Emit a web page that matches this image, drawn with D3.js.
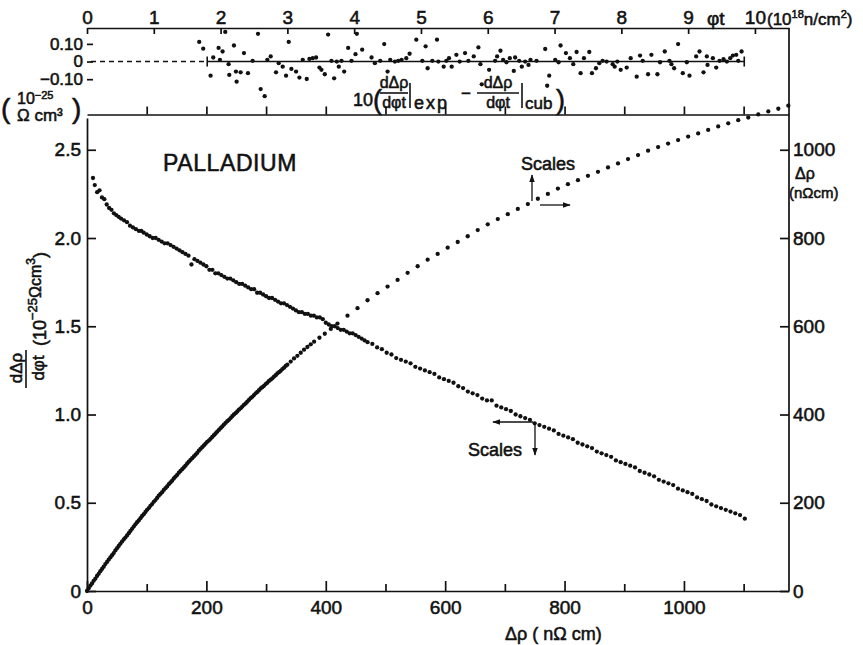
<!DOCTYPE html>
<html><head><meta charset="utf-8">
<script src="https://cdn.jsdelivr.net/npm/d3@7"></script>
<style>
body{margin:0;background:#fff;}
svg text{font-family:"Liberation Sans",Arial,sans-serif;fill:#111;stroke:#111;stroke-width:0.55px;}
</style></head><body><svg id="c" width="863" height="645"></svg>
<script>
// ---- DATA ----
// Upper curve: Δρ (nΩcm, right scale) versus fluence φt (10^18 n/cm², top scale)
const fluence = [0,0.025,0.05,0.075,0.1,0.125,0.15,0.175,0.2,0.225,0.25,0.275,0.3,0.325,0.35,0.375,0.4,0.425,0.45,0.475,
 0.5,0.525,0.55,0.575,0.6,0.625,0.65,0.675,0.7,0.725,0.75,0.775,0.8,0.825,0.85,0.875,0.9,0.925,0.95,0.975,
 1.0,1.025,1.05,1.075,1.1,1.125,1.15,1.175,1.2,1.225,1.25,1.275,1.3,1.325,1.35,1.375,1.4,1.425,1.45,1.475,
 1.5,1.525,1.55,1.575,1.6,1.625,1.65,1.675,1.7,1.725,1.75,1.775,1.8,1.825,1.85,1.875,1.9,1.925,1.95,1.975,
 2.0,2.025,2.05,2.075,2.1,2.125,2.15,2.175,2.2,2.225,2.25,2.275,2.3,2.325,2.35,2.375,2.4,2.425,2.45,2.475,
 2.5,2.525,2.55,2.575,2.6,2.625,2.65,2.675,2.7,2.725,2.75,2.775,2.8,2.825,2.85,2.875,2.9,2.925,2.95,2.975,
 3.0,3.05,3.1,3.15,3.2,3.25,3.3,3.35,3.4,3.48,3.56,
 3.65,3.75,3.9,4.05,4.2,4.35,4.5,4.65,4.8,4.95,5.1,5.25,5.4,5.55,5.7,5.85,6.0,6.15,6.3,6.45,
 6.6,6.75,6.9,7.05,7.2,7.35,7.5,7.65,7.8,7.95,8.1,8.25,8.4,8.55,8.7,8.85,9.0,9.15,9.3,9.45,
 9.6,9.75,9.9,10.05,10.2,10.35,10.5];
const resistivity = [0,6,12,17,23,28,34,39,45,50,55,61,66,71,76,81,86,92,97,102,
 107,112,117,121,126,131,136,141,146,151,156,160,165,170,174,179,184,188,193,197,
 202,206,211,216,220,224,229,233,237,242,246,250,255,259,263,268,272,276,280,284,
 289,293,297,301,305,309,313,318,322,326,330,334,338,341,345,349,353,357,361,365,
 369,373,377,381,385,388,392,396,400,403,407,411,414,418,422,425,429,433,437,440,
 444,448,451,455,459,462,465,469,472,476,479,482,486,489,493,496,499,503,506,510,
 513,520,527,533,540,547,553,559,565,574,583,
 594,606,624,641,659,675,690,705,721,736,751,764,778,791,804,818,831,843,854,866,
 877,889,900,912,922,931,941,950,960,969,979,988,998,1006,1014,1022,1030,1037,1045,1053,
 1060,1067,1073,1080,1087,1093,1100];

// Lower curve: dΔρ/dφt (10^-25 Ωcm³, left scale) versus Δρ (nΩcm, bottom scale)
const derivX = [10,13,17,21,25,29,33,37,41,45,49,53,57,62,67,72,77,82,87,91,
 95,100,105,110,115,120,125,130,135,140,145,150,155,160,165,170,175,180,185,190,
 195,200,205,210,215,220,225,230,235,240,245,250,255,260,265,270,275,280,285,290,
 295,300,305,310,315,320,325,330,335,340,345,350,355,360,365,370,375,380,385,390,
 395,400,405,410,415,420,425,430,435,440,445,450,455,460,465,470,
 478,486,494,502,510,518,526,534,542,550,558,566,574,582,590,598,606,614,622,630,638,646,654,662,670,678,686,694,702,710,
 718,726,734,742,750,758,766,774,782,790,798,806,814,822,830,838,846,854,862,870,878,886,894,902,910,918,926,934,942,950,
 958,966,974,982,990,998,1006,1014,1022,1030,1038,1046,1054,1062,1070,1078,1086,1094,1102];
const derivY = [2.34,2.30,2.26,2.27,2.23,2.22,2.19,2.17,2.16,2.14,2.13,2.12,2.11,2.10,2.09,2.07,2.06,2.05,2.04,2.04,
 2.03,2.02,2.01,2.00,2.00,1.99,1.98,1.97,1.97,1.96,1.95,1.94,1.93,1.92,1.91,1.90,1.85,1.88,1.87,1.86,
 1.85,1.84,1.82,1.82,1.80,1.80,1.79,1.78,1.77,1.77,1.76,1.75,1.74,1.74,1.73,1.72,1.71,1.71,1.69,1.69,
 1.68,1.67,1.66,1.66,1.65,1.64,1.63,1.63,1.62,1.61,1.60,1.59,1.58,1.58,1.57,1.57,1.56,1.56,1.55,1.55,
 1.54,1.52,1.51,1.50,1.50,1.49,1.48,1.48,1.47,1.46,1.46,1.45,1.44,1.43,1.42,1.41,
 1.40,1.38,1.37,1.35,1.34,1.32,1.31,1.30,1.29,1.27,1.26,1.25,1.24,1.23,1.21,1.20,1.19,1.18,1.16,1.15,
 1.13,1.12,1.11,1.09,1.08,1.08,1.05,1.04,1.03,1.02,1.00,0.99,0.98,0.97,0.95,0.94,0.93,0.92,0.91,0.89,
 0.88,0.87,0.86,0.84,0.83,0.82,0.81,0.79,0.78,0.77,0.76,0.74,0.73,0.72,0.71,0.70,0.68,0.67,0.66,0.65,
 0.63,0.62,0.61,0.60,0.58,0.57,0.56,0.55,0.53,0.52,0.51,0.49,0.48,0.47,0.46,0.45,0.44,0.43,0.41];

// Residual panel: 10(dΔρ/dφt|exp − dΔρ/dφt|cub) versus φt
const residPhi = [1.68,1.74,1.85,1.89,1.97,1.99,2.03,2.07,2.12,2.13,2.20,2.23,2.24,2.30,2.35,2.41,2.48,2.56,2.60,2.66,
 2.70,2.75,2.83,2.87,2.93,2.98,3.02,3.06,3.13,3.18,3.23,3.29,3.33,3.38,3.43,3.48,3.51,3.56,3.61,3.66,
 3.70,3.74,3.77,3.81,3.85,3.91,3.96,4.02,4.04,4.12,4.26,4.31,4.39,4.45,4.50,4.54,4.61,4.66,4.71,4.78,
 4.83,4.93,5.02,5.07,5.10,5.17,5.24,5.26,5.34,5.38,5.42,5.46,5.53,5.58,5.66,5.71,5.79,5.86,5.89,5.91,
 6.02,6.11,6.14,6.19,6.23,6.28,6.33,6.39,6.41,6.47,6.51,6.56,6.61,6.64,6.73,6.86,6.89,6.92,7.01,7.06,
 7.09,7.17,7.23,7.28,7.33,7.39,7.44,7.52,7.56,7.62,7.67,7.72,7.78,7.87,7.90,7.94,7.99,8.08,8.14,8.23,
 8.28,8.32,8.40,8.45,8.54,8.58,8.65,8.72,8.75,8.79,8.85,8.92,8.98,9.02,9.12,9.17,9.23,9.28,9.29,9.37,
 9.42,9.47,9.53,9.58,9.63,9.67,9.72,9.75,9.80];
const residVal = [0.111,0.073,-0.080,0.023,0.077,0.010,0.057,0.168,-0.015,-0.076,0.091,-0.057,-0.114,-0.061,0.048,-0.066,0.004,0.157,-0.156,-0.196,
 0.010,0.029,-0.061,-0.009,-0.029,-0.080,0.111,-0.042,-0.057,-0.091,0.010,-0.099,0.015,0.019,0.023,-0.034,-0.047,-0.072,0.153,0.004,
 -0.095,0.000,-0.029,0.004,-0.057,0.077,0.004,0.042,0.157,0.067,0.023,-0.009,0.004,0.099,-0.057,0.010,0.000,0.004,0.010,0.019,
 0.044,0.124,0.004,0.086,-0.038,0.004,0.124,0.000,-0.029,0.004,0.019,-0.029,0.038,0.000,0.048,0.004,0.029,0.080,-0.015,-0.129,
 -0.047,0.004,0.029,0.061,0.010,-0.004,0.019,-0.053,0.023,0.004,-0.029,0.000,-0.019,0.010,0.004,0.071,-0.137,-0.080,0.010,-0.004,
 0.091,0.048,0.019,-0.015,0.054,-0.066,0.019,0.054,-0.066,-0.038,-0.009,0.004,0.000,-0.015,-0.029,0.000,-0.047,-0.034,0.019,-0.086,
 0.034,0.004,-0.072,0.038,-0.072,-0.004,0.057,0.004,-0.015,-0.038,0.099,-0.066,-0.004,-0.080,0.029,0.057,-0.061,0.029,-0.019,0.019,
 -0.034,0.004,0.013,0.000,0.019,0.034,0.038,0.004,0.057];

// Tick values / labels
const bottomMajor = [0,200,400,600,800,1000];
const bottomMinor = [100,300,500,700,900,1100];
const panelTicks = [100,200,300,400,500,600,700,800,900,1000,1100];
const leftTicks = [0,0.5,1.0,1.5,2.0,2.5];
const rightTicks = [0,200,400,600,800,1000];
const topTicks = [0,1,2,3,4,5,6,7,8,9,10];
const residTicks = [0.10,0,-0.10];
const residTickLabels = ["0.10","0","\u22120.10"];
const fitRange = [1.80, 9.84]; // φt span of the cubic fit (solid part of zero line)

// ---- LAYOUT ----
const L=87, R=789, B=591, T=118, PT=28, PB=114.5;
const INK="#111";
const svg = d3.select("#c");

const xD   = d3.scaleLinear().domain([0,1176]).range([L,R]);
const yL   = d3.scaleLinear().domain([0,2.68]).range([B,T]);
const yR   = d3.scaleLinear().domain([0,1072]).range([B,T]);
const xPhi = d3.scaleLinear().domain([0,10.51]).range([L,R]);
const yRes = d3.scaleLinear().domain([-0.30,0.19]).range([PB,PT]);

function styleAxis(g, fs){
  g.attr("font-family",'"Liberation Sans",Arial,sans-serif').attr("font-size",fs);
  g.selectAll("path.domain").attr("stroke",INK).attr("stroke-width",1.7);
  g.selectAll(".tick line").attr("stroke",INK).attr("stroke-width",1.7);
  g.selectAll(".tick text").attr("fill",INK);
}

// bottom axis
styleAxis(svg.append("g").attr("transform",`translate(0,${B})`)
  .call(d3.axisBottom(xD).tickValues(bottomMajor).tickSize(-10).tickSizeOuter(0).tickPadding(10).tickFormat(d3.format("d"))),19);
const gmin = svg.append("g").attr("transform",`translate(0,${B})`)
  .call(d3.axisBottom(xD).tickValues(bottomMinor).tickSize(-7).tickSizeOuter(0).tickFormat(""));
styleAxis(gmin,19); gmin.select(".domain").remove();

// left axis
styleAxis(svg.append("g").attr("transform",`translate(${L},0)`)
  .call(d3.axisLeft(yL).tickValues(leftTicks).tickSize(-9).tickSizeOuter(0).tickPadding(6)
  .tickFormat(d=>d===0?"0":d.toFixed(1))),19);

// right axis
const gr = svg.append("g").attr("transform",`translate(${R},0)`)
  .call(d3.axisRight(yR).tickValues(rightTicks).tickSize(-9).tickSizeOuter(0).tickPadding(4).tickFormat(d3.format("d")));
styleAxis(gr,19); gr.select(".domain").remove();
svg.append("line").attr("x1",R).attr("x2",R).attr("y1",PT).attr("y2",B).attr("stroke",INK).attr("stroke-width",1.7);

// top axis (fluence)
styleAxis(svg.append("g").attr("transform",`translate(0,${PT})`)
  .call(d3.axisTop(xPhi).tickValues(topTicks).tickSize(-6).tickSizeOuter(0).tickPadding(4).tickFormat(d=>d)),19);

// bottom line of residual panel (Δρ ticks pointing up)
styleAxis(svg.append("g").attr("transform",`translate(0,${PB})`)
  .call(d3.axisTop(xD).tickValues(panelTicks).tickSize(8).tickSizeOuter(0).tickFormat("")),19);

// residual y axis
const grs = svg.append("g").attr("transform",`translate(${L},0)`)
  .call(d3.axisLeft(yRes).tickValues(residTicks).tickSize(-6).tickSizeOuter(0).tickPadding(4)
  .tickFormat((d,i)=>residTickLabels[i]));
styleAxis(grs,17); grs.select(".domain").remove();

// zero line of residual panel
svg.append("line").attr("x1",xPhi(0)+4).attr("x2",xPhi(fitRange[0])).attr("y1",yRes(0)).attr("y2",yRes(0))
  .attr("stroke",INK).attr("stroke-width",1.4).attr("stroke-dasharray","5,4");
svg.append("line").attr("x1",xPhi(fitRange[0])).attr("x2",xPhi(fitRange[1])).attr("y1",yRes(0)).attr("y2",yRes(0))
  .attr("stroke",INK).attr("stroke-width",1.6);
fitRange.forEach(v=>svg.append("line").attr("x1",xPhi(v)).attr("x2",xPhi(v)).attr("y1",yRes(0)-5).attr("y2",yRes(0)+5)
  .attr("stroke",INK).attr("stroke-width",1.6));

// ---- MARKS ----
const dotR = 2.15;
svg.append("g").selectAll("circle").data(d3.zip(residPhi,residVal)).join("circle")
  .attr("cx",d=>xPhi(d[0])).attr("cy",d=>yRes(d[1])).attr("r",dotR).attr("fill",INK);
svg.append("g").selectAll("circle").data(d3.zip(fluence,resistivity)).join("circle")
  .attr("cx",d=>xPhi(d[0])).attr("cy",d=>yR(d[1])).attr("r",dotR).attr("fill",INK);
svg.append("g").selectAll("circle").data(d3.zip(derivX,derivY)).join("circle")
  .attr("cx",d=>xD(d[0])).attr("cy",d=>yL(d[1])).attr("r",dotR).attr("fill",INK);

// ---- TEXT ----
function txt(x,y,s,fs,anchor){ return svg.append("text").attr("x",x).attr("y",y).attr("font-size",fs)
  .attr("text-anchor",anchor||"start").text(s); }

// top axis title
txt(707,25,"\u03C6t",19);
const tt = svg.append("text").attr("x",767).attr("y",25).attr("font-size",17);
tt.append("tspan").text("(10");
tt.append("tspan").attr("font-size",11).attr("dy",-7).text("18");
tt.append("tspan").attr("dy",7).text("n/cm");
tt.append("tspan").attr("font-size",11).attr("dy",-7).text("2");
tt.append("tspan").attr("dy",7).text(")");

// residual panel units
const ru = svg.append("text").attr("x",17).attr("y",104).attr("font-size",16);
ru.append("tspan").text("10");
ru.append("tspan").attr("font-size",11).attr("dy",-5).text("\u221225");
txt(17,121,"\u03A9 cm\u00B3",17);
txt(1,118,"(",28); txt(72,118,")",28);

// residual formula
txt(353,106,"10",18);
txt(373,109,"(",27);
txt(394,88,"d\u0394\u03C1",16,"middle");
svg.append("line").attr("x1",380).attr("x2",408).attr("y1",93).attr("y2",93).attr("stroke",INK).attr("stroke-width",1.6);
txt(394,108,"d\u03C6t",16,"middle");
svg.append("line").attr("x1",410).attr("x2",410).attr("y1",83).attr("y2",108).attr("stroke",INK).attr("stroke-width",1.6);
txt(414,109,"exp",18).attr("letter-spacing",2);
txt(461,99,"\u2212",17);
txt(498,88,"d\u0394\u03C1",16,"middle");
svg.append("line").attr("x1",477).attr("x2",519).attr("y1",93).attr("y2",93).attr("stroke",INK).attr("stroke-width",1.6);
txt(498,108,"d\u03C6t",16,"middle");
svg.append("line").attr("x1",522).attr("x2",522).attr("y1",83).attr("y2",108).attr("stroke",INK).attr("stroke-width",1.6);
txt(525,109,"cub",17);
txt(556,109,")",27);

// main labels
txt(163,171,"PALLADIUM",23).attr("letter-spacing",0.6);
txt(521,170,"Scales",18);
txt(468,456,"Scales",18);

// arrows
const defs = svg.append("defs");
defs.append("marker").attr("id","ah").attr("viewBox","0 0 10 10").attr("refX",9).attr("refY",5)
  .attr("markerWidth",6).attr("markerHeight",6).attr("orient","auto")
  .append("path").attr("d","M0,1.5L10,5L0,8.5z").attr("fill",INK);
function arrow(x1,y1,x2,y2){ svg.append("line").attr("x1",x1).attr("y1",y1).attr("x2",x2).attr("y2",y2)
  .attr("stroke",INK).attr("stroke-width",1.3).attr("marker-end","url(#ah)"); }
arrow(532,201,532,175);
arrow(540,205,570,205);
arrow(533,422,493,422);
arrow(535,422,535,455);

// right axis title
txt(795,179,"\u0394\u03C1",16);
txt(789,198,"(n\u03A9cm)",15);

// bottom axis title
txt(505,640,"\u0394\u03C1 ( n\u03A9 cm)",18);

// left axis title (rotated)
svg.append("text").attr("transform","translate(22,368) rotate(-90)").attr("font-size",17).attr("text-anchor","middle").text("d\u0394\u03C1");
svg.append("line").attr("x1",26).attr("x2",26).attr("y1",350).attr("y2",388).attr("stroke",INK).attr("stroke-width",1.6);
svg.append("text").attr("transform","translate(44,368) rotate(-90)").attr("font-size",17).attr("text-anchor","middle").text("d\u03C6t");
const yl = svg.append("text").attr("transform","translate(46,346) rotate(-90)").attr("font-size",18);
yl.append("tspan").text("(10");
yl.append("tspan").attr("font-size",13).attr("dy",-9).text("\u221225");
yl.append("tspan").attr("font-size",16).attr("dy",4).text("\u03A9cm");
yl.append("tspan").attr("font-size",12).attr("dy",-6).text("3");
yl.append("tspan").attr("font-size",18).attr("dy",11).text(")");
</script></body></html>
